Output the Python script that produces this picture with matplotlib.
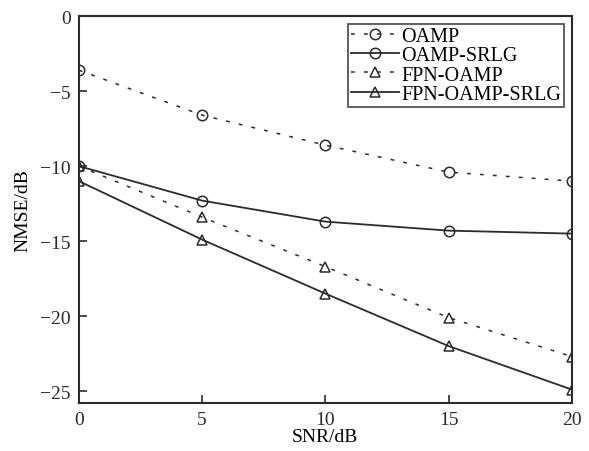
import matplotlib.pyplot as plt

plt.rcParams['font.family'] = ['Liberation Serif', 'DejaVu Serif']

snr = [0, 5, 10, 15, 20]
oamp = [-3.6, -6.6, -8.6, -10.4, -11.0]
oamp_srlg = [-10.0, -12.3, -13.7, -14.3, -14.5]
fpn_oamp = [-10.0, -13.4, -16.7, -20.1, -22.7]
fpn_oamp_srlg = [-11.0, -14.9, -18.5, -22.0, -24.9]

xticks = [0, 5, 10, 15, 20]
yticks = [0, -5, -10, -15, -20, -25]
yticklabels = ['0', '\u22125', '\u221210', '\u221215', '\u221220', '\u221225']

fig = plt.figure(figsize=(5.89, 4.52), dpi=100)
ax = fig.add_axes([0.134, 0.106, 0.837, 0.856])

c = '#2b2b2b'
dash = (0, (2.5, 6))
mk = dict(markersize=7.5, markerfacecolor='none', markeredgecolor=c, markeredgewidth=1.1)
ax.plot(snr, oamp, linestyle=dash, color=c, lw=1.1, marker='o', label='OAMP', **mk)
ax.plot(snr, oamp_srlg, linestyle='-', color=c, lw=1.3, marker='o', label='OAMP-SRLG', **mk)
ax.plot(snr, fpn_oamp, linestyle=dash, color=c, lw=1.1, marker='^', label='FPN-OAMP', **mk)
ax.plot(snr, fpn_oamp_srlg, linestyle='-', color=c, lw=1.3, marker='^', label='FPN-OAMP-SRLG', **mk)

ax.set_xlim(0, 20)
ax.set_ylim(-25.8, 0)
ax.set_xticks(xticks)
ax.set_yticks(yticks)
ax.set_yticklabels(yticklabels)
ax.tick_params(direction='in', length=6, width=1.2, labelsize=14, colors=c, pad=6)
for s in ax.spines.values():
    s.set_linewidth(1.5)
    s.set_color(c)

ax.set_xlabel('SNR/dB', fontsize=14, labelpad=0)
ax.set_ylabel('NMSE/dB', fontsize=14, labelpad=6)

leg = ax.legend(loc='upper right', fontsize=14.5, frameon=True, fancybox=False,
                handlelength=2.4, handletextpad=0.1, borderpad=0.15, labelspacing=0.0,
                borderaxespad=0.4)
leg.get_frame().set_edgecolor(c)
leg.get_frame().set_linewidth(1.3)

fig.savefig('out.png', dpi=100)
